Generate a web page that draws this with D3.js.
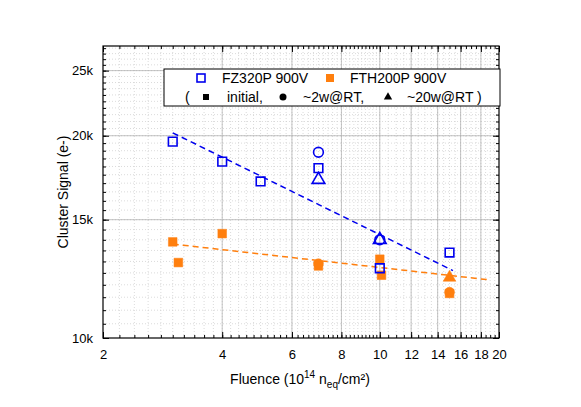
<!DOCTYPE html><html><head><script src="https://cdn.jsdelivr.net/npm/d3@7"></script>
<style>body{margin:0;background:#fff}text{font-family:Arial,"Liberation Sans",sans-serif}</style></head><body>
<svg id="c" width="581" height="407"></svg>
<script>
const xTicks=[2,4,6,8,10,12,14,16,18,20];
const yTicks=[10000,15000,20000,25000];
const yTickLabels=["10k","15k","20k","25k"];
const fzInitial=[[3,19600],[4,18300],[5,17100],[7,17900],[10,12700],[15,13400]];
const fz2w=[[7,18900],[10,14000]];
const fz20w=[[7,17200],[10,14000]];
const fzFit=[[3,20200],[15.3,12600]];
const fthInitial=[[3,13900],[3.1,12950],[4,14300],[7,12800],[10,13100],[10.1,12400],[15,11650]];
const fth2w=[[7,12900],[15,11700]];
const fth20w=[[15,12300]];
const fthFit=[[3,13800],[19,12200]];
const svg=d3.select("#c");
const L=103,R=499,T=46,B=338;
const x=d3.scaleLog().domain([2,20]).range([L,R]);
const y=d3.scaleLog().domain([10000,27200]).range([B,T]);
const g=svg.append("g");
const minX=[];for(let v=2.2;v<10;v+=0.2)minX.push(+v.toFixed(1));for(let v=10.5;v<20;v+=0.5)minX.push(v);
const minY=[];for(let v=10500;v<27200;v+=500)minY.push(v);
g.selectAll(".mx").data(minX).enter().append("line").attr("x1",d=>x(d)).attr("x2",d=>x(d)).attr("y1",T).attr("y2",B).attr("stroke","#ccc").attr("stroke-dasharray","1,2").attr("stroke-width",0.7);
g.selectAll(".my").data(minY).enter().append("line").attr("y1",d=>y(d)).attr("y2",d=>y(d)).attr("x1",L).attr("x2",R).attr("stroke","#ccc").attr("stroke-dasharray","1,2").attr("stroke-width",0.7);
g.selectAll(".Mx").data(xTicks.slice(1,-1)).enter().append("line").attr("x1",d=>x(d)).attr("x2",d=>x(d)).attr("y1",T).attr("y2",B).attr("stroke","#aaa").attr("stroke-width",0.7);
g.selectAll(".My").data(yTicks.slice(1)).enter().append("line").attr("y1",d=>y(d)).attr("y2",d=>y(d)).attr("x1",L).attr("x2",R).attr("stroke","#aaa").attr("stroke-width",0.7);
svg.append("g").attr("transform",`translate(0,${B})`).call(d3.axisBottom(x).tickValues(xTicks).tickFormat(d3.format("d")).tickSize(-6).tickPadding(12)).call(s=>{s.select(".domain").remove();s.selectAll("text").attr("font-size",13)});
svg.append("g").attr("transform",`translate(0,${B})`).call(d3.axisBottom(x).tickValues(minX).tickFormat("").tickSize(-3)).call(s=>s.select(".domain").remove());
svg.append("g").attr("transform",`translate(0,${T})`).call(d3.axisTop(x).tickValues(xTicks).tickFormat("").tickSize(-6)).call(s=>s.select(".domain").remove());
svg.append("g").attr("transform",`translate(0,${T})`).call(d3.axisTop(x).tickValues(minX).tickFormat("").tickSize(-3)).call(s=>s.select(".domain").remove());
svg.append("g").attr("transform",`translate(${L},0)`).call(d3.axisLeft(y).tickValues(yTicks).tickFormat((d,i)=>yTickLabels[i]).tickSize(-6).tickPadding(10)).call(s=>{s.select(".domain").remove();s.selectAll("text").attr("font-size",13)});
svg.append("g").attr("transform",`translate(${L},0)`).call(d3.axisLeft(y).tickValues(minY).tickFormat("").tickSize(-3)).call(s=>s.select(".domain").remove());
svg.append("g").attr("transform",`translate(${R},0)`).call(d3.axisRight(y).tickValues(yTicks).tickFormat("").tickSize(-6)).call(s=>s.select(".domain").remove());
svg.append("g").attr("transform",`translate(${R},0)`).call(d3.axisRight(y).tickValues(minY).tickFormat("").tickSize(-3)).call(s=>s.select(".domain").remove());
svg.append("rect").attr("x",L).attr("y",T).attr("width",R-L).attr("height",B-T).attr("fill","none").attr("stroke","#000").attr("stroke-width",1.2);
const blue="#0000ee",orange="#ff7f0e";
const line=d3.line().x(d=>x(d[0])).y(d=>y(d[1]));
svg.append("path").attr("d",line(fzFit)).attr("stroke",blue).attr("stroke-width",1.5).attr("stroke-dasharray","6,4").attr("fill","none");
svg.append("path").attr("d",line(fthFit)).attr("stroke",orange).attr("stroke-width",1.5).attr("stroke-dasharray","6,4").attr("fill","none");
function pts(data,type,col,filled){
  svg.append("g").selectAll("path").data(data).enter().append("path")
   .attr("d",d3.symbol().type(type).size(type===d3.symbolTriangle?70:75)())
   .attr("transform",d=>`translate(${x(d[0])},${y(d[1])})`)
   .attr("fill",filled?col:"none").attr("stroke",col).attr("stroke-width",filled?0.5:1.6);
}
pts(fthInitial,d3.symbolSquare,orange,true);pts(fth2w,d3.symbolCircle,orange,true);pts(fth20w,d3.symbolTriangle,orange,true);
pts(fzInitial,d3.symbolSquare,blue,false);pts(fz2w,d3.symbolCircle,blue,false);pts(fz20w,d3.symbolTriangle,blue,false);
const lg=svg.append("g");
lg.append("rect").attr("x",164).attr("y",69).attr("width",336).attr("height",37).attr("fill","#fff").attr("stroke","#000").attr("stroke-width",1);
lg.append("rect").attr("x",197).attr("y",74).attr("width",8).attr("height",8).attr("fill","none").attr("stroke",blue).attr("stroke-width",1.6);
lg.append("text").attr("x",222).attr("y",83).attr("font-size",14).text("FZ320P 900V");
lg.append("rect").attr("x",326).attr("y",74).attr("width",8).attr("height",8).attr("fill",orange);
lg.append("text").attr("x",350).attr("y",83).attr("font-size",14).text("FTH200P 900V");
lg.append("text").attr("x",185).attr("y",102).attr("font-size",14).text("(");
lg.append("rect").attr("x",203).attr("y",94).attr("width",6).attr("height",6).attr("fill","#000");
lg.append("text").attr("x",227).attr("y",102).attr("font-size",14).text("initial,");
lg.append("circle").attr("cx",283).attr("cy",97).attr("r",3.5).attr("fill","#000");
lg.append("text").attr("x",303).attr("y",102).attr("font-size",14).text("~2w@RT,");
lg.append("path").attr("d",d3.symbol().type(d3.symbolTriangle).size(30)()).attr("transform","translate(388,97)").attr("fill","#000");
lg.append("text").attr("x",407).attr("y",102).attr("font-size",14).text("~20w@RT )");
const xt=svg.append("text").attr("x",300).attr("y",384).attr("text-anchor","middle").attr("font-size",14);
xt.append("tspan").text("Fluence (10");xt.append("tspan").attr("dy",-6).attr("font-size",10).text("14");
xt.append("tspan").attr("dy",6).text(" n");xt.append("tspan").attr("dy",4).attr("font-size",10).text("eq");
xt.append("tspan").attr("dy",-4).text("/cm²)");
svg.append("text").attr("transform","translate(68,192) rotate(-90)").attr("text-anchor","middle").attr("font-size",14).text("Cluster Signal (e-)");
</script></body></html>
